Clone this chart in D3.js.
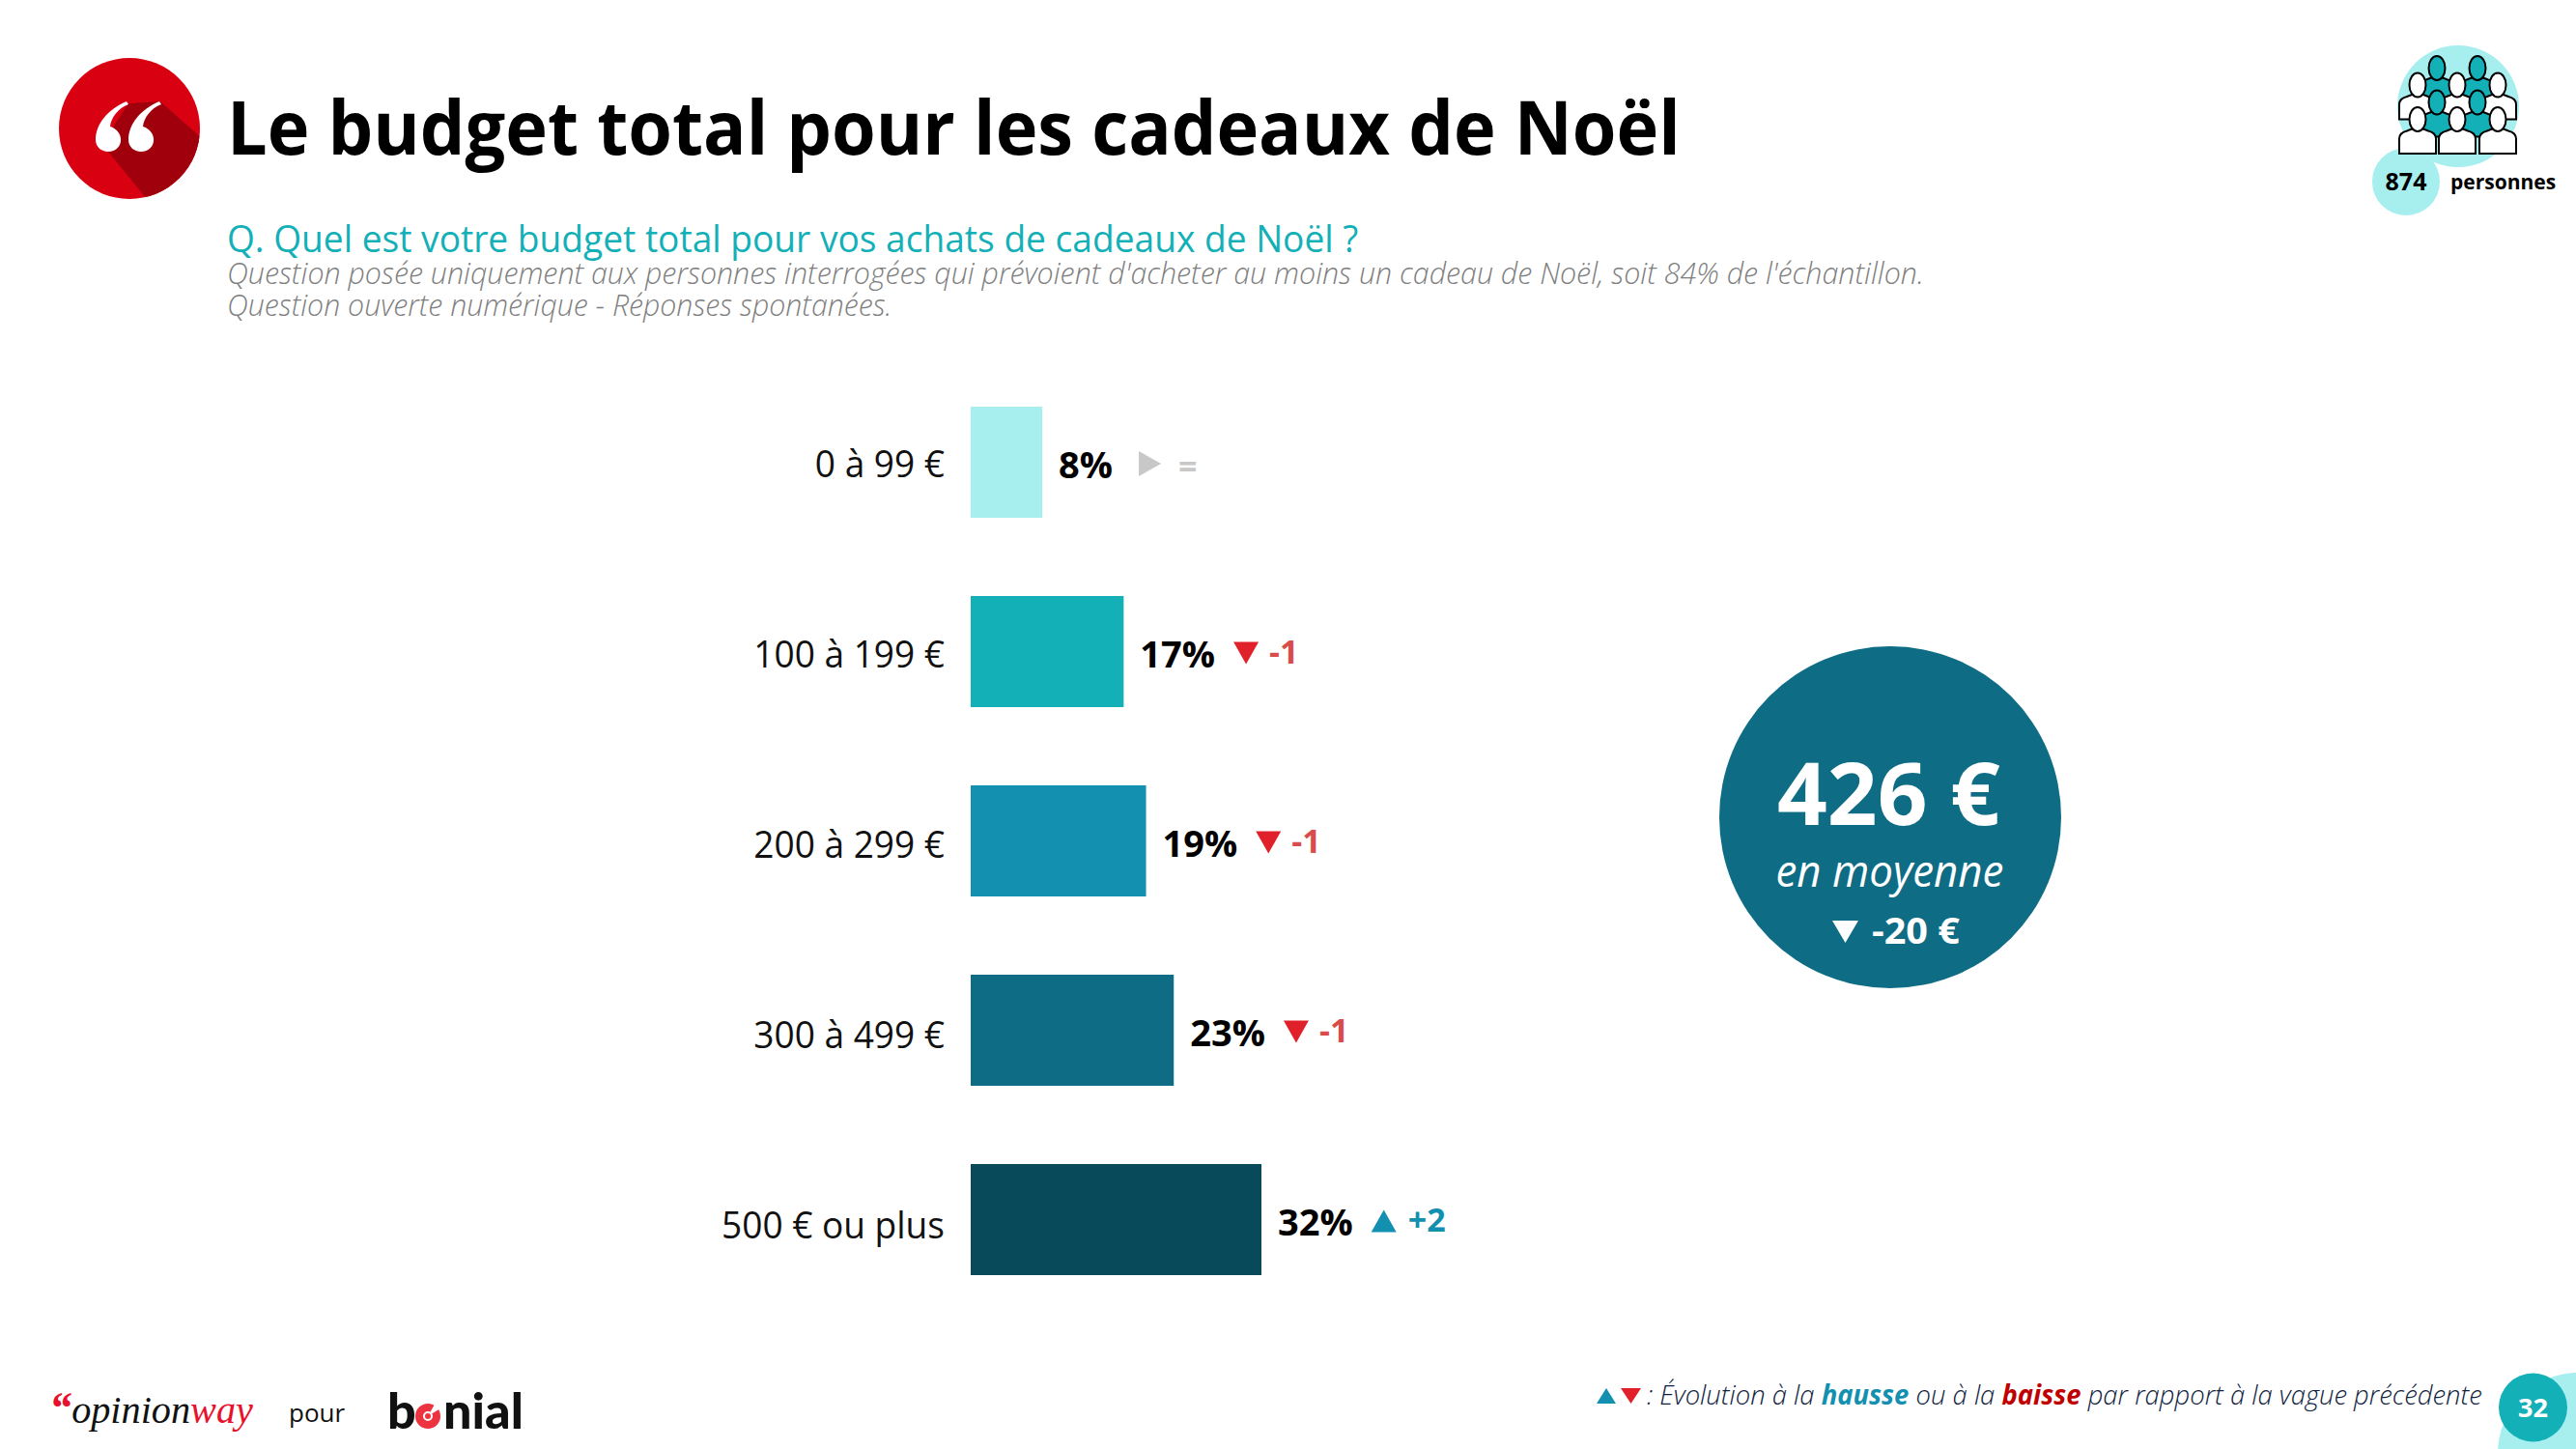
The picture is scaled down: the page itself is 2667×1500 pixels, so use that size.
<!DOCTYPE html>
<html><head><meta charset="utf-8">
<script src="https://cdn.jsdelivr.net/npm/d3@7"></script>
<style>
html,body{margin:0;padding:0;background:#fff}
svg{display:block}
text{font-family:"Open Sans",sans-serif}
</style></head><body>
<svg id="c" width="2667" height="1500"></svg>
<script>
const categories=["0 à 99 €","100 à 199 €","200 à 299 €","300 à 499 €","500 € ou plus"];
const values=[8.0,17.1,19.6,22.7,32.5];
const valueLabels=["8%","17%","19%","23%","32%"];
const deltas=[0,-1,-1,-1,2];
const deltaLabels=["=","-1","-1","-1","+2"];
const barColors=["#a6efee","#13b0b8","#138fb0","#0f6c85","#094a5a"];
const title="Le budget total pour les cadeaux de Noël";
const question="Q. Quel est votre budget total pour vos achats de cadeaux de Noël ?";
const notes=["Question posée uniquement aux personnes interrogées qui prévoient d'acheter au moins un cadeau de Noël, soit 84% de l'échantillon.","Question ouverte numérique - Réponses spontanées."];
const noteWidths=[1757,689];

const svg=d3.select("#c");
const x=d3.scaleLinear().domain([0,32.5]).range([1005,1306]);
const y=d3.scaleBand().domain(categories).range([421,1320]).paddingInner(81/196).paddingOuter(0);
const tri=(p)=>d3.line()(p)+"Z";
// horizontal fit: Segoe-like text is narrower than the installed humanist sans
function fit(sel,w){
 const n=sel.node(), b=n.getComputedTextLength(), px=+sel.attr("x")||0;
 sel.attr("transform",`translate(${px},0) scale(${w/b},1) translate(${-px},0)`);
 return sel;
}

// header icon
const defs=svg.append("defs");
defs.append("clipPath").attr("id","cq").append("circle").attr("cx",134).attr("cy",133).attr("r",73);
svg.append("circle").attr("cx",134).attr("cy",133).attr("r",73).attr("fill","#d90012");
svg.append("path").attr("clip-path","url(#cq)").attr("fill","#a0000c")
 .attr("d","M112,157L152,206L220,215L212,146L166,105L133,107L105,150Z");
const q="M131,105C112,113 99,128 99,145C99,152 105,157 112,157C120,157 126,151 125,143C124,136 118,132 114,131C115,122 122,112 133,108Z";
[0,34].forEach(d=>svg.append("path").attr("d",q).attr("fill","#fff").attr("transform",`translate(${d},0)`));

fit(svg.append("text").attr("x",235).attr("y",160.5).attr("font-size",77).attr("font-weight",700).attr("fill","#000").text(title),1505);
fit(svg.append("text").attr("x",235).attr("y",261).attr("font-size",38).attr("fill","#13b0b8").text(question),1172);
notes.forEach((n,i)=>fit(svg.append("text").attr("x",235).attr("y",294.5+i*33).attr("font-size",31).attr("font-style","italic").attr("font-weight",300).attr("fill","#7f7f7f").text(n),noteWidths[i]));

// sample icon
svg.append("circle").attr("cx",2545).attr("cy",110).attr("r",63).attr("fill","#a6efee");
svg.append("circle").attr("cx",2491).attr("cy",188).attr("r",35).attr("fill","#a6efee");
const people=[[2523,70.5,"#13b0b8"],[2565,70.5,"#13b0b8"],[2503,88,"#fff"],[2544,88,"#fff"],[2586,88,"#fff"],[2523,106,"#13b0b8"],[2565,106,"#13b0b8"],[2503,123.5,"#fff"],[2544,123.5,"#fff"],[2586,123.5,"#fff"]];
people.forEach(([px,py,f])=>{
 const g=svg.append("g").attr("transform",`translate(${px},${py})`).attr("fill",f).attr("stroke","#000").attr("stroke-width",2);
 g.append("path").attr("d","M-19,35.5L-19,20Q-19,14 -11,12L-6,10L6,10L11,12Q19,14 19,20L19,35.5Z");
 g.append("ellipse").attr("rx",8.5).attr("ry",12.5);
});
svg.append("text").attr("x",2491).attr("y",197).attr("text-anchor","middle").attr("font-size",25).attr("font-weight",700).text("874");
svg.append("text").attr("x",2537).attr("y",196).attr("font-size",21).attr("font-weight",700).text("personnes");

// bars
svg.selectAll("rect.bar").data(categories).join("rect").attr("class","bar")
 .attr("x",x(0)).attr("y",d=>y(d)).attr("height",y.bandwidth())
 .attr("width",(d,i)=>x(values[i])-x(0)).attr("fill",(d,i)=>barColors[i]);

// category axis
const ax=svg.append("g").attr("transform","translate(993,0)").call(d3.axisLeft(y).tickSize(0).tickPadding(15));
ax.select(".domain").remove();
ax.selectAll("text").attr("font-size",38).attr("font-family",'"Open Sans",sans-serif').attr("fill","#111")
 .attr("dy",(d,i)=>(15+i*1.2)+"px")
 .each(function(){const s=d3.select(this);fit(s,this.getComputedTextLength()*0.975);});

// value labels + change markers
categories.forEach((c,i)=>{
 const by=y(c)+y.bandwidth()/2;
 const lx=x(values[i])+17;
 const t=svg.append("text").attr("x",lx).attr("y",by+16).attr("font-size",38).attr("font-weight",700).attr("fill","#000").text(valueLabels[i]);
 const d=deltas[i];
 const tx=lx+t.node().getComputedTextLength()+(d===0?27:19);
 const cy=by+1.5;
 const col=d>0?"#138fb0":d<0?"#e0202a":"#c8c8c8";
 const pts=d>0?[[tx,cy+11.5],[tx+26,cy+11.5],[tx+13,cy-11.5]]:d<0?[[tx,cy-11.5],[tx+26,cy-11.5],[tx+13,cy+11.5]]:[[tx,cy-13],[tx,cy+13],[tx+23,cy]];
 svg.append("path").attr("d",tri(pts)).attr("fill",col);
 svg.append("text").attr("x",tx+(d===0?41:d>0?38:37)).attr("y",by+(d===0?16:12.5)).attr("font-size",34).attr("font-weight",700)
  .attr("fill",d>0?"#138fb0":d<0?"#d94c4c":"#c8c8c8").text(deltaLabels[i]);
});

// mean bubble
svg.append("circle").attr("cx",1957).attr("cy",846).attr("r",177).attr("fill","#0f6c85");
fit(svg.append("text").attr("x",1955.5).attr("y",854.5).attr("text-anchor","middle").attr("font-size",90).attr("font-weight",700).attr("fill","#fff").text("426 €"),231);
fit(svg.append("text").attr("x",1956.5).attr("y",918).attr("text-anchor","middle").attr("font-size",45).attr("font-style","italic").attr("fill","#fff").text("en moyenne"),236);
svg.append("path").attr("d",tri([[1897,953],[1924,953],[1910.5,976]])).attr("fill","#fff");
fit(svg.append("text").attr("x",1938).attr("y",977).attr("font-size",38).attr("font-weight",700).attr("fill","#fff").text("-20 €"),91);

// footer left
const ow=svg.append("text").attr("x",51).attr("y",1473).attr("font-size",40).attr("font-style","italic").style("font-family",'"Liberation Serif",serif');
ow.append("tspan").attr("fill","#e8112d").attr("font-weight",700).attr("font-size",46).text("“");
ow.append("tspan").attr("fill","#111").text("opinion");
ow.append("tspan").attr("fill","#e8112d").text("way");
fit(ow,211);
svg.append("text").attr("x",299).attr("y",1472).attr("font-size",26).attr("fill","#111").text("pour");
svg.append("text").attr("x",401).attr("y",1479).attr("font-size",52).attr("font-weight",900).style("font-family","Lato").attr("fill","#111").text("b");
svg.append("circle").attr("cx",443).attr("cy",1466).attr("r",9).attr("fill","none").attr("stroke","#ee3340").attr("stroke-width",8);
svg.append("path").attr("d","M443,1466L451,1452L456,1458Z").attr("fill","#fff");
svg.append("circle").attr("cx",443).attr("cy",1466).attr("r",3).attr("fill","#ee3340");
svg.append("text").attr("x",459).attr("y",1479).attr("font-size",52).attr("font-weight",900).style("font-family","Lato").attr("fill","#111").text("nial");

// footer right
svg.append("path").attr("d",tri([[1653,1453],[1673,1453],[1663,1437]])).attr("fill","#138fb0");
svg.append("path").attr("d",tri([[1678,1437],[1699,1437],[1688.5,1453]])).attr("fill","#e0202a");
const leg=svg.append("text").attr("x",1705).attr("y",1454).attr("font-size",28).attr("font-style","italic").attr("font-weight",300).attr("fill","#0f2240");
leg.append("tspan").text(": Évolution à la ");
leg.append("tspan").attr("font-weight",700).attr("fill","#138fb0").text("hausse");
leg.append("tspan").text(" ou à la ");
leg.append("tspan").attr("font-weight",700).attr("fill","#c00000").text("baisse");
leg.append("tspan").text(" par rapport à la vague précédente");
fit(leg,865);
svg.append("circle").attr("cx",2670).attr("cy",1505).attr("r",84).attr("fill","#a6efee");
svg.append("circle").attr("cx",2622.5).attr("cy",1457).attr("r",35.5).attr("fill","#13b0b8");
svg.append("text").attr("x",2622.5).attr("y",1467).attr("text-anchor","middle").attr("font-size",27).attr("font-weight",700).attr("fill","#fff").text("32");
</script>
</body></html>
